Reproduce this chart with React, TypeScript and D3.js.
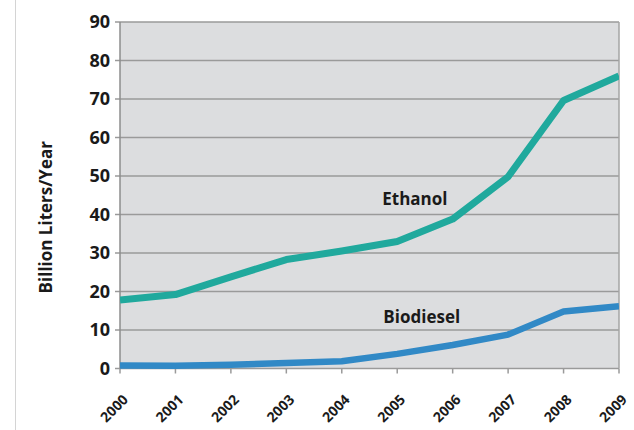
import React, { useEffect, useRef } from 'react';
import * as d3 from 'd3';

const years = [2000, 2001, 2002, 2003, 2004, 2005, 2006, 2007, 2008, 2009];
const ethanol = [17.8, 19.2, 23.8, 28.3, 30.5, 33, 38.8, 49.8, 69.6, 76];
const biodiesel = [0.8, 0.7, 1.0, 1.4, 1.9, 3.8, 6.1, 8.8, 14.8, 16.2];
const yTicks = [0, 10, 20, 30, 40, 50, 60, 70, 80, 90];
const seriesLabels = ['Ethanol', 'Biodiesel'];
const yTitle = 'Billion Liters/Year';

const W = 634;
const H = 430;
const FONT = "'Open Sans', 'DejaVu Sans', sans-serif";

const App: React.FC = () => {
  const svgRef = useRef<SVGSVGElement>(null);

  useEffect(() => {
    if (!svgRef.current) return;
    const svg = d3.select(svgRef.current);
    svg.selectAll('*').remove();

    const left = 120;
    const right = 619;
    const top = 22;
    const bottom = 368.5;

    const x = d3.scaleLinear().domain([2000, 2009]).range([left, right]);
    const y = d3.scaleLinear().domain([0, 90]).range([bottom, top]);

    // white page with faint left border
    svg.append('rect').attr('width', W).attr('height', H).attr('fill', '#fff');
    svg.append('line')
      .attr('x1', 15.5).attr('x2', 15.5).attr('y1', 0).attr('y2', H)
      .attr('stroke', '#d4d4d4').attr('stroke-width', 1);

    // plot background
    svg.append('rect')
      .attr('x', left).attr('y', top)
      .attr('width', right - left).attr('height', bottom - top)
      .attr('fill', '#dcdddf');

    // gridlines
    svg.append('g')
      .selectAll('line')
      .data(yTicks)
      .join('line')
      .attr('x1', left - 5).attr('x2', right)
      .attr('y1', d => y(d)).attr('y2', d => y(d))
      .attr('stroke', '#9a9a9a').attr('stroke-width', 1.5);

    // frame
    svg.append('line')
      .attr('x1', right).attr('x2', right).attr('y1', top).attr('y2', bottom)
      .attr('stroke', '#a5a5a5').attr('stroke-width', 1.5);
    svg.append('line')
      .attr('x1', left).attr('x2', left).attr('y1', top).attr('y2', bottom)
      .attr('stroke', '#8c8c8c').attr('stroke-width', 1.5);

    // x ticks
    svg.append('g')
      .selectAll('line')
      .data(years)
      .join('line')
      .attr('x1', d => x(d)).attr('x2', d => x(d))
      .attr('y1', bottom).attr('y2', bottom + 5)
      .attr('stroke', '#9a9a9a').attr('stroke-width', 1.5);

    // y tick labels
    svg.append('g')
      .selectAll('text')
      .data(yTicks)
      .join('text')
      .attr('x', left - 10)
      .attr('y', d => y(d))
      .attr('dy', '0.36em')
      .attr('text-anchor', 'end')
      .attr('font-family', FONT)
      .attr('font-weight', 'bold')
      .attr('font-size', 18)
      .attr('fill', '#1a1a1a')
      .text(d => d);

    // x tick labels
    svg.append('g')
      .selectAll('text')
      .data(years)
      .join('text')
      .attr('transform', d => `translate(${x(d) + 9},${bottom + 32}) rotate(-45)`)
      .attr('text-anchor', 'end')
      .attr('font-family', FONT)
      .attr('font-weight', 'bold')
      .attr('font-size', 14)
      .attr('fill', '#1a1a1a')
      .text(d => d);

    // y title
    svg.append('text')
      .attr('transform', `translate(52,${(top + bottom) / 2 + 22}) rotate(-90)`)
      .attr('text-anchor', 'middle')
      .attr('font-family', FONT)
      .attr('font-weight', 'bold')
      .attr('font-size', 17)
      .attr('fill', '#1a1a1a')
      .text(yTitle);

    // lines
    const clipId = 'plot-clip';
    svg.append('clipPath').attr('id', clipId)
      .append('rect')
      .attr('x', left).attr('y', top)
      .attr('width', right - left).attr('height', bottom - top + 4);

    const line = d3.line<number>()
      .x((_, i) => x(years[i]))
      .y(d => y(d));

    svg.append('path')
      .attr('clip-path', `url(#${clipId})`)
      .attr('d', line(biodiesel) as string)
      .attr('fill', 'none')
      .attr('stroke', '#3189c6')
      .attr('stroke-width', 6.5)
      .attr('stroke-linejoin', 'round');

    svg.append('path')
      .attr('clip-path', `url(#${clipId})`)
      .attr('d', line(ethanol) as string)
      .attr('fill', 'none')
      .attr('stroke', '#20a99d')
      .attr('stroke-width', 7)
      .attr('stroke-linejoin', 'round');

    // series labels
    const labelPos = [
      { x: 2004.73, y: 42.5 },
      { x: 2004.75, y: 11.8 },
    ];
    seriesLabels.forEach((t, i) => {
      svg.append('text')
        .attr('x', x(labelPos[i].x))
        .attr('y', y(labelPos[i].y))
        .attr('font-family', FONT)
        .attr('font-weight', 'bold')
        .attr('font-size', 17)
        .attr('fill', '#1a1a1a')
        .text(t);
    });
  }, []);

  return (
    <svg
      ref={svgRef}
      width={W}
      height={H}
      style={{ position: 'absolute', left: 0, top: 0 }}
    />
  );
};

export default App;
